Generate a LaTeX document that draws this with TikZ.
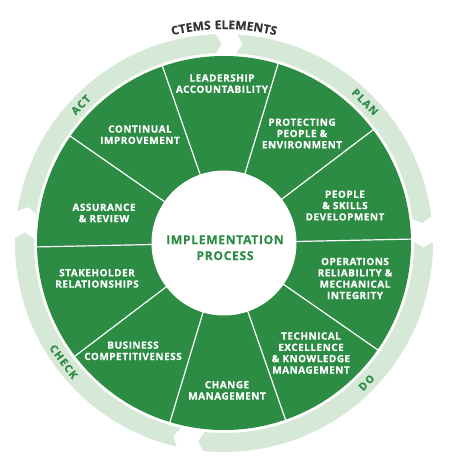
\documentclass[tikz,border=0pt]{standalone}
\usepackage{fontspec}
\setmainfont{Open Sans}
\newfontfamily\lblfont[LetterSpace=5, BoldFeatures={FakeBold=0.35}]{Open Sans}
\newfontfamily\ringfont[LetterSpace=12, BoldFeatures={FakeBold=0.35}]{Open Sans}
\newfontfamily\ctfont[LetterSpace=6, BoldFeatures={FakeBold=0.3}]{Open Sans}
\usetikzlibrary{decorations.text}
\definecolor{dgreen}{RGB}{44,140,68}
\definecolor{lgreen}{RGB}{214,233,215}
\definecolor{tgray}{RGB}{52,52,52}
\tikzset{
  seglabel/.style={text=white, font=\lblfont\bfseries\fontsize{10}{11.3}\selectfont, align=center, inner sep=0pt},
  centerlabel/.style={text=dgreen, font=\lblfont\bfseries\fontsize{12.2}{16}\selectfont, align=center, inner sep=0pt},
  ringlabel/.style={text=dgreen, font=\ringfont\bfseries\fontsize{10.5}{12}\selectfont, inner sep=0pt},
  ringpiece/.style={fill=lgreen},
  divider/.style={white, line width=1.2pt},
}
\begin{document}
\begin{tikzpicture}
\useasboundingbox (0,0) rectangle (450pt,-468pt);
\fill[white] (0,0) rectangle (450pt,-468pt);
\begin{scope}[shift={(224pt,-243pt)}]
  % outer ring arrows (clockwise)
  \foreach \s/\e in {86.3/7.3, 0.3/-95.8, -103.1/-181.4, -188.8/-267.7}
    \fill[ringpiece] (\s:209pt) arc[start angle=\s, end angle=\e, radius=209pt]
      -- ({\e-1.6}:199.5pt) -- (\e:190pt)
      arc[start angle=\e, end angle=\s, radius=190pt]
      -- ({\s-1.6}:199.5pt) -- cycle;
  % wheel
  \fill[dgreen] (0,0) circle (187pt);
  \foreach \a in {1.2,37.2,...,325.2} \draw[divider] (\a:70pt) -- (\a:188pt);
  \fill[white] (0,0) circle (72.5pt);
  % ring labels
  \node[ringlabel, rotate=46] (act) at (136:199pt) {ACT};
  \node[ringlabel, rotate=-45] (plan) at (45:199.5pt) {PLAN};
  \node[ringlabel, rotate=-53.5] (check) at (216.5:199.5pt) {CHECK};
  \node[ringlabel, rotate=45.6] (do) at (-44.4:199.5pt) {DO};
  % title on arc
  \path[decorate, decoration={text along path, text align=center,
    text={|\ctfont\bfseries\fontsize{12}{14}\selectfont\color{tgray}|CTEMS ELEMENTS}}]
    (123:214pt) arc[start angle=123, end angle=57, radius=214pt];
\end{scope}
% segment labels
\node[seglabel] (lead) at (222pt,-83.6pt) {LEADERSHIP\\ACCOUNTABILITY};
\node[seglabel] (prot) at (302pt,-133.5pt) {PROTECTING\\PEOPLE \&\\ENVIRONMENT};
\node[seglabel] (peop) at (345pt,-205.6pt) {PEOPLE\\\& SKILLS\\DEVELOPMENT};
\node[seglabel] (oper) at (355pt,-278.5pt) {OPERATIONS\\RELIABILITY \&\\MECHANICAL\\INTEGRITY};
\node[seglabel] (tech) at (311pt,-353pt) {TECHNICAL\\EXCELLENCE\\\& KNOWLEDGE\\MANAGEMENT};
\node[seglabel] (chan) at (227pt,-390.4pt) {CHANGE\\MANAGEMENT};
\node[seglabel] (busi) at (133pt,-350.8pt) {BUSINESS\\COMPETITIVENESS};
\node[seglabel] (stak) at (97pt,-278.4pt) {STAKEHOLDER\\RELATIONSHIPS};
\node[seglabel] (assu) at (104pt,-213pt) {ASSURANCE\\\& REVIEW};
\node[seglabel] (cont) at (140pt,-134.7pt) {CONTINUAL\\IMPROVEMENT};
\node[centerlabel] (impl) at (225pt,-247.7pt) {IMPLEMENTATION\\PROCESS};
\end{tikzpicture}
\end{document}
